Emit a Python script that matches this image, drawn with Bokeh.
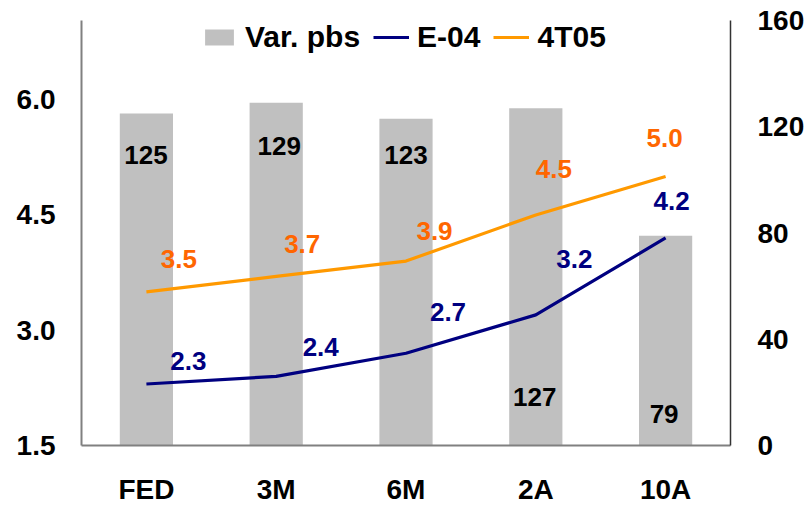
from bokeh.plotting import figure
from bokeh.models import (Range1d, LinearAxis, FixedTicker, ColumnDataSource,
                          Legend, LegendItem, PrintfTickFormatter, FactorRange)
from bokeh.core.properties import value
from bokeh.embed import file_html
from bokeh.resources import INLINE

# ---- data -------------------------------------------------------------
categories = ["FED", "3M", "6M", "2A", "10A"]
var_pbs = [125, 129, 123, 127, 79]          # bars, right axis
e04 = [2.3, 2.4, 2.7, 3.2, 4.2]              # navy line, left axis
t05 = [3.5, 3.7, 3.9, 4.5, 5.0]              # orange line, left axis
left_ticks = [1.5, 3.0, 4.5, 6.0]
right_ticks = [0, 40, 80, 120, 160]

# ---- label placement (screen pixels, relative to each mark) -------------
e04_dx = [42, 44.5, 42, 38.5, 6]
e04_dy = [-23.5, -29, -41, -56, -37]
t05_dx = [32.5, 26, 28.5, 18, -1]
t05_dy = [-33, -32, -30, -46, -39]
bar_dx = [-0.5, 3, 0, -1, -1.5]
bar_dy = [42, 42.7, 36.6, 289, 178]

FONT = "Liberation Sans"
NAVY = "#000080"
ORANGE_LINE = "#FF9900"
ORANGE_TEXT = "#FF6600"
BAR = "#C0C0C0"

p = figure(width=808, height=507, x_range=FactorRange(*categories, range_padding=0),
           y_range=Range1d(1.5, 7.03), output_backend="svg", toolbar_location=None,
           min_border_left=81, min_border_right=78, min_border_top=20, min_border_bottom=62)
p.outline_line_color = None
p.xgrid.visible = False
p.ygrid.visible = False
p.background_fill_color = "white"
p.border_fill_color = "white"

p.extra_y_ranges = {"right": Range1d(0, 160)}

src = ColumnDataSource(dict(cat=categories, pbs=var_pbs, e04=e04, t05=t05,
                            e04_lbl=[f"{v:.1f}" for v in e04],
                            t05_lbl=[f"{v:.1f}" for v in t05],
                            pbs_lbl=[str(v) for v in var_pbs],
                            e04_dx=e04_dx, e04_dy=e04_dy,
                            t05_dx=t05_dx, t05_dy=t05_dy,
                            bar_dx=bar_dx, bar_dy=bar_dy))

bars = p.vbar(x="cat", top="pbs", width=0.41, source=src, y_range_name="right",
              fill_color=BAR, line_color=None)
l1 = p.line(x="cat", y="e04", source=src, line_color=NAVY, line_width=3.2)
l2 = p.line(x="cat", y="t05", source=src, line_color=ORANGE_LINE, line_width=3.2)

common = dict(text_font=value(FONT), text_font_style="bold", text_font_size="26px",
              text_align="center", text_baseline="middle")
p.text(x="cat", y="pbs", text="pbs_lbl", source=src, y_range_name="right",
       x_offset="bar_dx", y_offset="bar_dy", text_color="black", **common)
p.text(x="cat", y="e04", text="e04_lbl", source=src,
       x_offset="e04_dx", y_offset="e04_dy", text_color=NAVY, **common)
p.text(x="cat", y="t05", text="t05_lbl", source=src,
       x_offset="t05_dx", y_offset="t05_dy", text_color=ORANGE_TEXT, **common)

# ---- axes -----------------------------------------------------------------
def style_axis(ax, line_color, line_width, standoff):
    ax.major_tick_line_color = None
    ax.minor_tick_line_color = None
    ax.major_tick_out = 0
    ax.major_tick_in = 0
    ax.axis_line_color = line_color
    ax.axis_line_width = line_width
    ax.major_label_text_font = FONT
    ax.major_label_text_font_style = "bold"
    ax.major_label_text_font_size = "28px"
    ax.major_label_text_color = "black"
    ax.major_label_standoff = standoff

style_axis(p.yaxis[0], "#808080", 2, 26)
p.yaxis[0].ticker = FixedTicker(ticks=left_ticks)
p.yaxis[0].formatter = PrintfTickFormatter(format="%.1f")

style_axis(p.xaxis[0], "#808080", 2, 28)

right = LinearAxis(y_range_name="right", ticker=FixedTicker(ticks=right_ticks))
style_axis(right, "#333333", 1.5, 27)
p.add_layout(right, "right")

# ---- legend ---------------------------------------------------------------
legend = Legend(items=[LegendItem(label="Var. pbs", renderers=[bars]),
                       LegendItem(label="E-04", renderers=[l1]),
                       LegendItem(label="4T05", renderers=[l2])],
                orientation="horizontal", location=(120, 391),
                glyph_width=36, glyph_height=20, label_standoff=8, spacing=13,
                padding=0, margin=0, border_line_color=None,
                background_fill_alpha=0,
                label_text_font=FONT, label_text_font_style="bold",
                label_text_font_size="30px", label_text_color="black")
p.add_layout(legend)

open("out.html", "w").write(file_html(p, INLINE))
